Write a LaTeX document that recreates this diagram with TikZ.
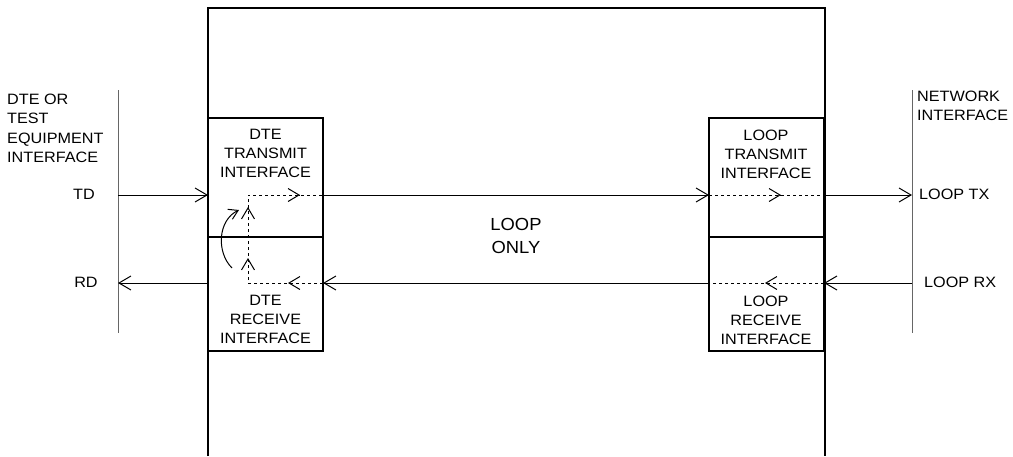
\documentclass[tikz,border=0pt]{standalone}
\usepackage{fontspec}
\setmainfont{Liberation Sans}[FakeStretch=1.08]
\newfontfamily\bigfont{Liberation Sans}[FakeStretch=1.05]
\usetikzlibrary{arrows.meta,calc}
\begin{document}
\begin{tikzpicture}[x=1pt,y=-1pt,
  lbl/.style={font=\fontsize{15}{19.3}\selectfont, align=center, inner sep=0pt},
  lbll/.style={font=\fontsize{15}{19.3}\selectfont, align=left, inner sep=0pt},
  box/.style={draw, line width=1.1pt, inner sep=0pt, outer sep=0pt, minimum width=115pt},
  conn/.style={line width=1pt, -{Straight Barb[length=12pt,width=14pt,line width=1pt]}},
  dots/.style={line width=1pt, dash pattern=on 3pt off 3pt},
  midtip/.style={solid, line width=1pt, -{Straight Barb[length=11pt,width=13pt,line width=1pt]}},
  iface/.style={line width=1pt, draw=black!60}]
\useasboundingbox (0,0) rectangle (1013,456);
% enclosure
\draw[line width=1.1pt] (208,456) -- (208,8) -- (825,8) -- (825,456);
% interface lines
\coordinate (ilT) at (118,90); \coordinate (ilB) at (118,333);
\coordinate (irT) at (912,90); \coordinate (irB) at (912,333);
\draw[iface] (ilT) -- (ilB);
\draw[iface] (irT) -- (irB);
% boxes
\node[box, minimum height=119pt] (dtetx) at (265.5,177.5) {};
\node[box, minimum height=114pt] (dterx) at (265.5,294) {};
\node[box, minimum height=119pt] (lptx) at (766.5,177.5) {};
\node[box, minimum height=114pt] (lprx) at (766.5,294) {};
% texts
\node[lbl] (t1) at (265.5,153.5) {DTE\\TRANSMIT\\INTERFACE};
\node[lbl] (t2) at (265.5,319.5) {DTE\\RECEIVE\\INTERFACE};
\node[lbl] (t3) at (766,154.5) {LOOP\\TRANSMIT\\INTERFACE};
\node[lbl] (t4) at (766,320.5) {LOOP\\RECEIVE\\INTERFACE};
\node[lbll, anchor=north west] (t5) at (7,94) {DTE OR\\TEST\\EQUIPMENT\\INTERFACE};
\node[lbll, anchor=north west] (t6) at (917,91) {NETWORK\\INTERFACE};
\node[lbl] (td) at (84,194) {TD};
\node[lbl] (rd) at (86,282) {RD};
\node[lbl, anchor=west] (ltx) at (919,194) {LOOP TX};
\node[lbl, anchor=west] (lrx) at (924,282) {LOOP RX};
\node[align=center, inner sep=0pt, font=\bigfont\fontsize{17.5}{23}\selectfont] (lo) at (516,236) {LOOP\\ONLY};
% connector points
\coordinate (tdL) at (118,195); \coordinate (tdR) at (912,195);
\coordinate (rdL) at (118,283); \coordinate (rdR) at (912,283);
\draw[conn] (tdL) -- (tdL -| dtetx.west);
\draw[conn] (tdL -| dtetx.east) -- (tdL -| lptx.west);
\draw[conn] (tdL -| lptx.east) -- (tdR);
\draw[conn] (rdR) -- (rdR -| lprx.east);
\draw[conn] (rdR -| lprx.west) -- (rdR -| dterx.east);
\draw[conn] (rdL -| dterx.west) -- (rdL);
% dotted paths
\coordinate (lb1) at (248,283); \coordinate (lb2) at (248,195);
\draw[dots] (rdL -| dterx.east) -- (lb1) -- (lb2) -- (tdL -| dtetx.east);
\draw[dots] (tdL -| lptx.west) -- (tdL -| lptx.east);
\draw[dots] (rdR -| lprx.east) -- (rdR -| lprx.west);
% mid arrows
\coordinate (m1) at (300,195); \coordinate (m2) at (288,283);
\coordinate (m3) at (248,207); \coordinate (m4) at (248,258);
\coordinate (m5) at (781,195); \coordinate (m6) at (765,283);
\draw[midtip] ($(m1)+(-1,0)$) -- (m1);
\draw[midtip] ($(m2)+(1,0)$) -- (m2);
\draw[midtip] ($(m3)+(0,1)$) -- (m3);
\draw[midtip] ($(m4)+(0,1)$) -- (m4);
\draw[midtip] ($(m5)+(-1,0)$) -- (m5);
\draw[midtip] ($(m6)+(1,0)$) -- (m6);
% curved loopback arrow
\coordinate (c1) at (232,268); \coordinate (c2) at (239,210);
\draw[line width=1pt, -{Straight Barb[length=9pt,width=11pt,line width=1pt]}] (c1) .. controls (216,252) and (218,220) .. (c2);
\end{tikzpicture}
\end{document}
